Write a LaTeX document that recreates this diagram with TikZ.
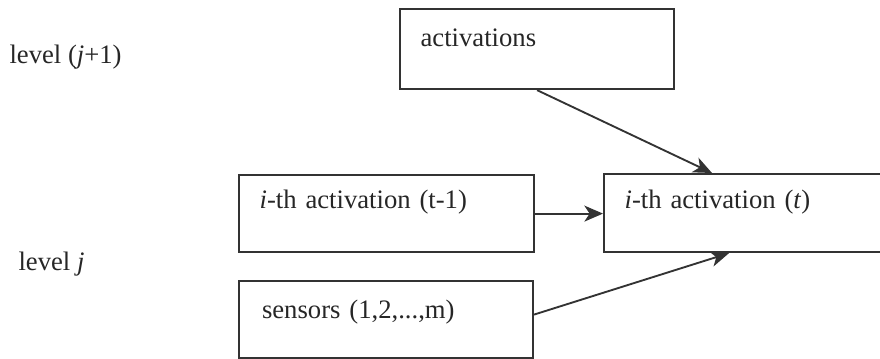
\documentclass[tikz,border=0pt]{standalone}
\usepackage{fontspec}
\setmainfont{Liberation Serif}
\usetikzlibrary{arrows.meta, calc}

\begin{document}
\begin{tikzpicture}[x=0.375pt, y=-0.375pt, >={Stealth[length=7pt, width=6pt, inset=2pt]},
  every node/.style={font=\normalsize, text=black!85},
  box/.style={draw=black!80, line width=0.8pt, anchor=north west, inner ysep=0pt, inner xsep=7.7pt, align=left}]
  \useasboundingbox (0,0) rectangle (880,358);
  \clip (0,0) rectangle (880,358);
  % levels
  \node[anchor=base west, inner sep=0pt] (upper) at (9,63) {level (\textit{j}+1)};
  \node[anchor=base west, inner sep=0pt] (lower) at (18,270) {level \textit{j}};
  % units
  \node[box, text width=87.35pt, text height=13.9pt, text depth=16.1pt] (act) at (399,8) {activations};
  \node[box, text width=95.2pt, text height=12.4pt, text depth=16.5pt] (prev) at (238,174) {\textit{i}-th activation (t-1)};
  \node[box, text width=97.1pt, text height=12.75pt, text depth=16.5pt] (curr) at (603,173) {\textit{i}-th activation (\textit{t})};
  \node[box, text width=93pt, inner xsep=8.6pt, text height=13.9pt, text depth=15pt] (sens) at (238,280) {sensors (1,2,...,m)};
  % links
  \draw[->, draw=black!80, line width=0.7pt] (act.south) -- ($(curr.north west)+(109,0)$);
  \draw[->, draw=black!80, line width=0.7pt] (prev.east) -- (prev.east -| curr.west);
  \draw[->, draw=black!80, line width=0.7pt] ($(sens.east)+(0,-5)$) -- ($(curr.south west)+(126,0)$);
\end{tikzpicture}
\end{document}
